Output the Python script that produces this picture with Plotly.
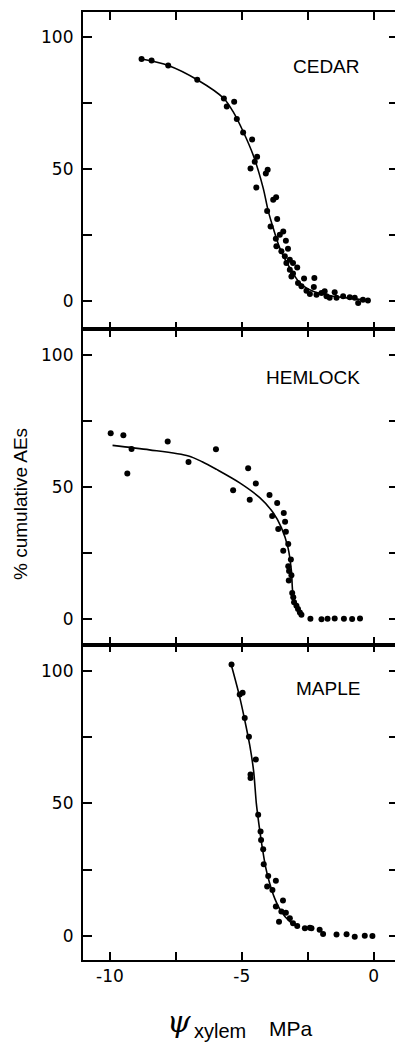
import plotly.graph_objects as go
from plotly.subplots import make_subplots

# ---------------- data ----------------
cedar_x = [-8.80, -8.42, -7.79, -6.69, -5.68, -5.29, -5.57, -5.19, -4.95, -4.61,
           -4.42, -4.51, -4.67, -4.02, -4.09, -4.45, -3.70, -3.81, -4.04, -3.66,
           -3.91, -3.43, -3.71, -3.56, -3.33, -3.69, -3.25, -3.50, -3.37, -3.18,
           -3.31, -3.06, -2.90, -3.18, -3.06, -3.12, -2.64, -2.25, -2.87, -2.74,
           -2.27, -2.55, -2.42, -2.17, -1.98, -1.86, -1.79, -1.67, -1.48, -1.41,
           -1.16, -0.91, -0.72, -0.59, -0.41, -0.22]
cedar_y = [91.6, 91.1, 89.2, 83.8, 76.7, 75.5, 73.7, 68.9, 63.8, 61.2,
           54.7, 52.8, 50.2, 49.7, 48.3, 43.0, 39.3, 38.4, 34.1, 31.1,
           28.3, 26.4, 23.7, 25.2, 22.9, 20.8, 19.9, 18.9, 17.0, 15.7,
           14.5, 14.5, 12.8, 11.9, 10.5, 9.4, 8.6, 8.8, 6.9, 5.7,
           5.4, 4.0, 2.8, 2.5, 3.1, 3.8, 1.9, 1.3, 3.4, 1.3,
           1.9, 1.5, 1.3, -0.6, 0.6, 0.3]
cedar_fit_x = [-8.80, -7.79, -6.69, -5.68, -5.33, -4.95, -4.57, -4.19, -4.00,
               -3.81, -3.56, -3.18, -2.80, -2.30, -1.54, -0.78, -0.22]
cedar_fit_y = [91.6, 89.2, 83.8, 76.7, 71.7, 64.2, 55.3, 42.8, 34.2,
               27.7, 20.1, 12.6, 6.9, 3.8, 1.9, 1.0, 0.4]

hemlock_x = [-9.97, -9.49, -9.18, -9.34, -7.81, -7.02, -5.98, -5.33, -4.76, -4.47,
             -4.70, -3.95, -3.66, -3.85, -3.41, -3.36, -3.62, -3.33, -3.24, -3.43,
             -3.14, -3.24, -3.21, -3.12, -3.22, -3.09, -3.05, -3.02, -2.93, -2.87,
             -2.80, -2.74, -2.40, -1.98, -1.75, -1.48, -1.13, -0.82, -0.52]
hemlock_y = [70.3, 69.5, 64.3, 55.1, 67.2, 59.4, 64.2, 48.7, 57.0, 51.3,
             45.1, 46.9, 43.9, 39.0, 40.1, 36.8, 34.1, 33.0, 28.4, 25.8,
             22.5, 20.0, 18.2, 16.6, 14.6, 9.8, 8.2, 6.3, 5.0, 3.8,
             2.5, 1.6, 0.1, -0.1, 0.1, 0.2, 0.1, 0.0, 0.2]
hemlock_fit_x = [-9.90, -8.50, -7.02, -6.50, -5.96, -5.08, -4.32, -3.81, -3.50,
                 -3.25, -3.12, -3.06, -2.87, -2.69]
hemlock_fit_y = [65.7, 64.0, 61.7, 59.5, 56.6, 51.5, 45.9, 40.2, 34.6,
                 27.0, 18.2, 9.4, 3.1, 1.2]

maple_x = [-5.39, -5.08, -4.97, -4.89, -4.73, -4.47, -4.67, -4.67, -4.38, -4.29,
           -4.27, -4.19, -4.17, -4.00, -3.71, -4.04, -3.84, -3.44, -3.71, -3.50,
           -3.33, -3.59, -3.18, -3.06, -2.90, -2.61, -2.42, -2.36, -2.05, -1.92,
           -1.41, -1.03, -0.72, -0.34, -0.05]
maple_y = [102.5, 91.2, 91.8, 82.3, 75.2, 66.6, 60.9, 59.6, 45.7, 39.4,
           36.2, 32.7, 27.0, 22.6, 20.8, 18.6, 17.3, 13.3, 11.0, 9.1,
           8.7, 5.3, 6.6, 4.7, 3.7, 2.8, 3.0, 2.8, 2.2, 0.6,
           0.4, 0.5, -0.4, 0.0, -0.1]
maple_fit_x = [-5.39, -5.10, -4.90, -4.70, -4.55, -4.45, -4.35, -4.22, -4.10,
               -3.95, -3.75, -3.50, -3.20, -2.90]
maple_fit_y = [102.0, 91.0, 82.0, 72.0, 62.0, 50.0, 42.0, 33.0, 26.0,
               20.0, 14.0, 9.0, 5.5, 3.5]

panel_names = ["CEDAR", "HEMLOCK", "MAPLE"]
x_tickvals = [-10, -7.5, -5, -2.5, 0]
x_ticktext = ["-10", "", "-5", "", "0"]
y_tickvals = [0, 25, 50, 75, 100]
y_ticktext = ["0", "", "50", "", "100"]

# ---------------- figure ----------------
# the page body has an 8px default margin, so the figure is offset by (8, 8)
OFF = 8
W, H = 395, 1039
ML, MR, MT, MB = 75, 5, 2, 87
PLOT_W = W - ML - MR
PLOT_H = H - MT - MB
FONT = "Liberation Sans, Arial, Helvetica, sans-serif"
TICKFONT = "DejaVu Sans, Verdana, sans-serif"


def sx(v):  # screen x pixel -> paper fraction
    return (v - OFF - ML) / PLOT_W


def sy(v):  # screen y pixel -> paper fraction
    return (H - MB - (v - OFF)) / PLOT_H


fig = make_subplots(rows=3, cols=1, shared_xaxes=True, vertical_spacing=0)

series = [(cedar_x, cedar_y, cedar_fit_x, cedar_fit_y),
          (hemlock_x, hemlock_y, hemlock_fit_x, hemlock_fit_y),
          (maple_x, maple_y, maple_fit_x, maple_fit_y)]

for i, (px, py, fx, fy) in enumerate(series, start=1):
    fig.add_trace(go.Scatter(x=fx, y=fy, mode="lines",
                             line=dict(color="black", width=1.6, shape="spline", smoothing=0.8),
                             showlegend=False, hoverinfo="skip"), row=i, col=1)
    fig.add_trace(go.Scatter(x=px, y=py, mode="markers",
                             marker=dict(color="black", size=6),
                             showlegend=False), row=i, col=1)

domains = [[sy(328), 1.0],
           [sy(644), sy(328)],
           [0.0, sy(644)]]
y_ranges = [[-10.6, 109.4], [-9.7, 109.6], [-9.2, 110.0]]

for i in range(1, 4):
    fig.update_yaxes(row=i, col=1, domain=domains[i - 1], range=y_ranges[i - 1],
                     tickmode="array", tickvals=y_tickvals, ticktext=y_ticktext,
                     ticks="inside", ticklen=9, tickwidth=1.5, tickcolor="black",
                     ticklabelstandoff=4,
                     showline=True, linewidth=2.2, linecolor="black", mirror="ticks",
                     showgrid=False, zeroline=False,
                     tickfont=dict(family=TICKFONT, size=17, color="black"))
    fig.update_xaxes(row=i, col=1, range=[-11.02, 0.92],
                     tickmode="array", tickvals=x_tickvals, ticktext=x_ticktext,
                     ticks="inside", ticklen=8, tickwidth=1.5, tickcolor="black",
                     showline=True, linewidth=1.6, linecolor="black", mirror="ticks",
                     showgrid=False, zeroline=False,
                     showticklabels=(i == 3),
                     tickfont=dict(family=TICKFONT, size=17, color="black"))

label_y = [88.7, 91.4, 93.4]
for i, name in enumerate(panel_names, start=1):
    fig.add_annotation(x=-0.45, y=label_y[i - 1], xref=f"x{'' if i == 1 else i}",
                       yref=f"y{'' if i == 1 else i}", text=name, showarrow=False,
                       xanchor="right", yanchor="middle",
                       font=dict(family=FONT, size=19, color="black"))

# y-axis title
fig.add_annotation(x=sx(21), y=sy(503), xref="paper", yref="paper",
                   text="% cumulative AEs", textangle=-90, showarrow=False,
                   xanchor="center", yanchor="middle",
                   font=dict(family=FONT, size=19, color="black"))

# x-axis title: psi with subscript "xylem", then "MPa"
fig.add_annotation(x=sx(179), y=sy(1022), xref="paper", yref="paper",
                   text="<i>ψ</i>", showarrow=False, xanchor="center", yanchor="middle",
                   font=dict(family="DejaVu Serif, serif", size=30, color="black"))
fig.add_annotation(x=sx(192), y=sy(1031), xref="paper", yref="paper",
                   text="xylem", showarrow=False, xanchor="left", yanchor="middle",
                   font=dict(family=FONT, size=20, color="black"))
fig.add_annotation(x=sx(267), y=sy(1029), xref="paper", yref="paper",
                   text="MPa", showarrow=False, xanchor="left", yanchor="middle",
                   font=dict(family=FONT, size=21, color="black"))

fig.update_layout(width=W, height=H, margin=dict(l=ML, r=MR, t=MT, b=MB),
                  paper_bgcolor="white", plot_bgcolor="white",
                  font=dict(family=FONT, color="black"))

fig.write_html("out.html")
